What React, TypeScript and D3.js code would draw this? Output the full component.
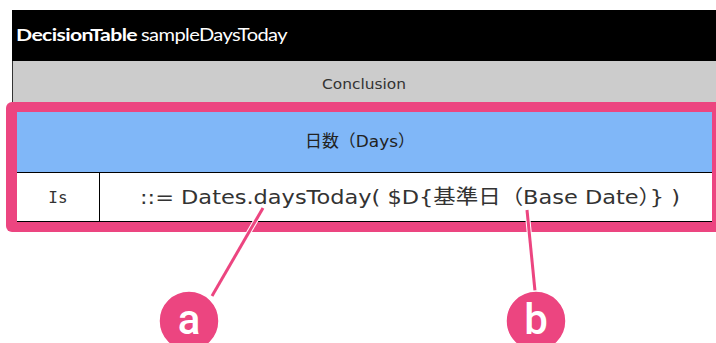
import React from 'react';
import * as d3 from 'd3';

// table content
const tableName = ['DecisionTable', 'sampleDaysToday'];
const headerRows = ['Conclusion', '日数（Days）'];
const ruleCells = ['Is', '::= Dates.daysToday( $D{基準日（Base Date）} )'];
const callouts = [
  { label: 'a', from: [263, 208], to: [212, 296], center: [189, 321] },
  { label: 'b', from: [527, 210], to: [535, 291], center: [536, 321] },
];

const W = 716;
const H = 343;
const PINK = '#ec4580';
const FONT = '"DejaVu Sans", "Noto Sans CJK JP", sans-serif';

export default function App() {
  // row bands: title, conclusion, column header, rule row
  const rowEdges = [10, 61, 102, 112, 172, 222];
  const y = d3.scaleOrdinal<string, number>()
    .domain(['title', 'concl', 'pinkTop', 'head', 'rule', 'end'])
    .range(rowEdges);

  const x = d3.scaleLinear().domain([0, 1]).range([17, 712]);
  const isEdge = 99;

  return (
    <svg width={W} height={H} style={{ position: 'absolute', left: 0, top: 0, background: '#fff' }}>
      {/* title bar */}
      <rect x={12} y={y('title')} width={W - 12} height={y('concl') - y('title')} fill="#000" />
      <text x={16} y={41} fill="#fff" fontFamily="Lato, sans-serif" fontSize={17} letterSpacing={-0.5}>
        <tspan fontWeight="bold" textLength={121} lengthAdjust="spacingAndGlyphs">{tableName[0]}</tspan>
        <tspan x={141} textLength={146} lengthAdjust="spacingAndGlyphs">{tableName[1]}</tspan>
      </text>

      {/* conclusion row */}
      <rect x={12} y={y('concl')} width={W - 12} height={y('pinkTop') - y('concl')} fill="#cccccc" />
      <line x1={12.5} x2={12.5} y1={y('concl')} y2={y('pinkTop')} stroke="#333" />
      <text x={364} y={89} textAnchor="middle" fontFamily={FONT} fontSize={14} fill="#333"
        textLength={84} lengthAdjust="spacingAndGlyphs">
        {headerRows[0]}
      </text>

      {/* highlight frame */}
      <rect x={6} y={y('pinkTop')} width={W + 4} height={130} rx={6} fill={PINK} />

      {/* column header */}
      <rect x={x(0)} y={y('head')} width={x(1) - x(0)} height={y('rule') - y('head')} fill="#80b7f8" />
      <text x={360} y={147} textAnchor="middle" fontFamily={FONT} fontSize={16.5} fill="#222"
        textLength={110} lengthAdjust="spacingAndGlyphs">
        {headerRows[1]}
      </text>

      {/* rule row */}
      <rect x={x(0)} y={y('rule')} width={x(1) - x(0)} height={y('end') - y('rule')} fill="#fff" />
      <line x1={x(0)} x2={x(1)} y1={y('rule') + 0.5} y2={y('rule') + 0.5} stroke="#000" />
      <line x1={x(0)} x2={x(1)} y1={y('end') - 0.5} y2={y('end') - 0.5} stroke="#000" />
      <line x1={isEdge + 0.5} x2={isEdge + 0.5} y1={y('rule')} y2={y('end')} stroke="#000" />
      <text x={(x(0) + isEdge) / 2} y={203} textAnchor="middle" fontFamily="DejaVu Sans Mono, monospace" fontSize={16} fill="#333">
        {ruleCells[0]}
      </text>
      <text x={410} y={204} textAnchor="middle" fontFamily={FONT} fontSize={20} fill="#333"
        textLength={540} lengthAdjust="spacingAndGlyphs">
        {ruleCells[1]}
      </text>

      {/* callouts */}
      {callouts.map(c => (
        <g key={c.label}>
          <line x1={c.from[0]} y1={c.from[1]} x2={c.to[0]} y2={c.to[1]} stroke="#fff" strokeWidth={5} />
          <line x1={c.from[0]} y1={c.from[1]} x2={c.to[0]} y2={c.to[1]} stroke={PINK} strokeWidth={3} />
          <circle cx={c.center[0]} cy={c.center[1]} r={30} fill={PINK} stroke="#fff" strokeWidth={1.5} />
          <text x={c.center[0]} y={c.center[1] + 13} textAnchor="middle" fontFamily="Roboto, sans-serif"
            fontWeight="500" fontSize={42} fill="#fff">{c.label}</text>
        </g>
      ))}
    </svg>
  );
}
